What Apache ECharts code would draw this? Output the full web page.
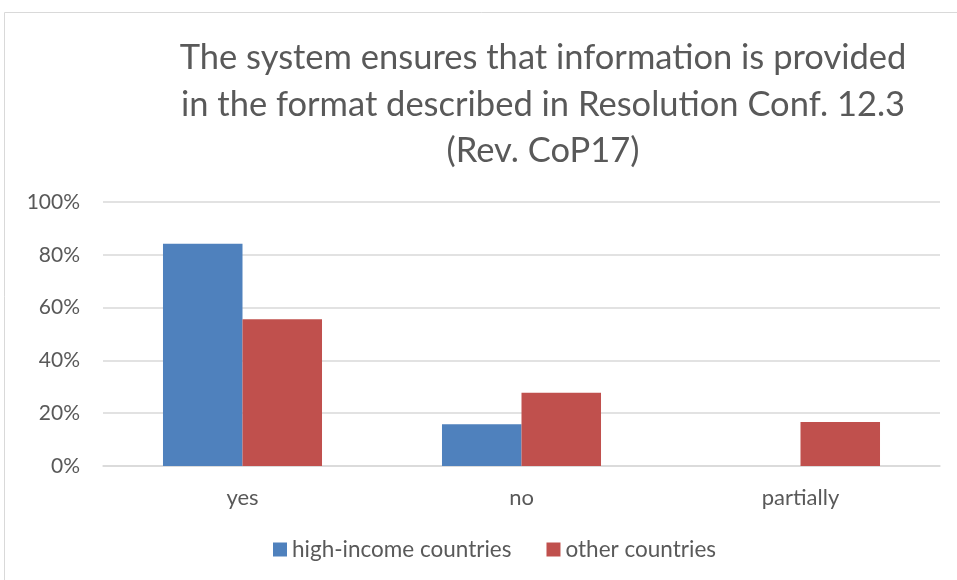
<!DOCTYPE html>
<html>
<head>
<meta charset="utf-8">
<script src="https://cdn.jsdelivr.net/npm/echarts@6/dist/echarts.min.js"></script>
<style>
  html, body { margin: 0; padding: 0; background: #ffffff; }
  #chart { width: 957px; height: 580px; }
</style>
</head>
<body>
<div id="chart"></div>
<script>
// Answer categories on the x axis
const categories = ['yes', 'no', 'partially'];
// Share of respondents per answer (%)
const highIncome = [84.2, 15.8, 0];
const otherCountries = [55.6, 27.7, 16.7];
// Y axis range and step (%)
const yTicks = [0, 20, 40, 60, 80, 100];

const titleText = 'The system ensures that information is provided\nin the format described in Resolution Conf. 12.3\n(Rev. CoP17)';
const textColor = '#595959';
const fontFamily = 'Lato, "Noto Sans", sans-serif';

const chart = echarts.init(document.getElementById('chart'), null, { renderer: 'canvas' });

chart.setOption({
  animation: false,
  backgroundColor: '#ffffff',
  graphic: [{
    type: 'rect',
    shape: { x: 4.5, y: 12.5, width: 1000, height: 1000 },
    style: { fill: 'none', stroke: '#d9d9d9', lineWidth: 1 },
    silent: true
  }],
  title: {
    text: titleText,
    left: 538,
    top: 30,
    textAlign: 'center',
    textStyle: {
      color: textColor,
      fontFamily: fontFamily,
      fontWeight: 'normal',
      fontSize: 34.5,
      lineHeight: 46.5
    }
  },
  legend: {
    left: 268,
    top: 533,
    itemWidth: 14,
    itemHeight: 14,
    itemGap: 35,
    icon: 'rect',
    textStyle: { color: textColor, fontFamily: fontFamily, fontSize: 22.5 },
    data: ['high-income countries', 'other countries']
  },
  grid: { left: 103, right: 17, top: 202, bottom: 114, containLabel: false },
  xAxis: {
    type: 'category',
    data: categories,
    axisLine: { show: true, lineStyle: { color: '#d9d9d9', width: 1.5 } },
    axisTick: { show: false },
    axisLabel: { color: textColor, fontFamily: fontFamily, fontSize: 22, margin: 21 }
  },
  yAxis: {
    type: 'value',
    min: yTicks[0],
    max: yTicks[yTicks.length - 1],
    interval: yTicks[1] - yTicks[0],
    axisLine: { show: false },
    axisTick: { show: false },
    splitLine: { lineStyle: { color: '#d9d9d9', width: 1.5 } },
    axisLabel: {
      color: textColor, fontFamily: fontFamily, fontSize: 21, margin: 23,
      formatter: v => v + '%'
    }
  },
  series: [
    {
      name: 'high-income countries',
      type: 'bar',
      data: highIncome,
      barGap: '0%',
      barCategoryGap: '43%',
      itemStyle: { color: '#4f81bd' }
    },
    {
      name: 'other countries',
      type: 'bar',
      data: otherCountries,
      barGap: '0%',
      barCategoryGap: '43%',
      itemStyle: { color: '#c0504d' }
    }
  ]
});
</script>
</body>
</html>
